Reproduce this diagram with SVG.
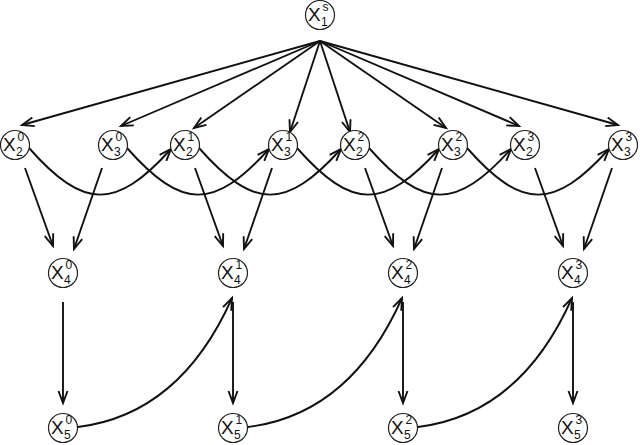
<svg xmlns="http://www.w3.org/2000/svg" width="640" height="445" viewBox="0 0 640 445">
<style>
.n circle{fill:#fff;stroke:#222;stroke-width:1.2}
.n text{font-family:"Liberation Sans",Arial,sans-serif;fill:#111}
.m{font-size:19px}
.s{font-size:12px}
.e path{fill:none;stroke:#111;stroke-width:1.9;marker-end:url(#a)}
</style>
<defs>
<marker id="a" viewBox="-15 -8 18 16" refX="0" refY="0" markerWidth="18" markerHeight="16" markerUnits="userSpaceOnUse" orient="auto">
<path d="M-12,-4.5 L0,0 L-12,4.5" fill="none" stroke="#111" stroke-width="1.9"/>
</marker>
</defs>
<rect width="640" height="445" fill="#fff"/>
<g id="connectors" class="e">
<path d="M320,41 L22,125"/>
<path d="M320,41 L121,126"/>
<path d="M320,41 L194,128"/>
<path d="M320,41 L290,132"/>
<path d="M320,41 L350,132"/>
<path d="M320,41 L446,128"/>
<path d="M320,41 L519,126"/>
<path d="M320,41 L618,125"/>
<path d="M25,168 L53,246"/>
<path d="M102,168 L74,249"/>
<path d="M195,168 L223,246"/>
<path d="M272,168 L244,249"/>
<path d="M365,168 L393,246"/>
<path d="M442,168 L414,249"/>
<path d="M535,168 L563,246"/>
<path d="M612,168 L584,249"/>
<path d="M29,148 C84,210 116,210 171,149"/>
<path d="M127,148 C182,210 214,210 269,149"/>
<path d="M199,148 C254,210 286,210 341,149"/>
<path d="M297,148 C352,210 384,210 439,149"/>
<path d="M369,148 C424,210 456,210 511,149"/>
<path d="M467,148 C522,210 554,210 609,149"/>
<path d="M63,302 L63,403"/>
<path d="M233,302 L233,403"/>
<path d="M403,302 L403,403"/>
<path d="M573,302 L573,403"/>
<path d="M78,427 C150,418 200,370 232,298"/>
<path d="M248,427 C320,418 370,370 402,298"/>
<path d="M418,427 C490,418 540,370 572,298"/>
</g>
<g id="x1s" class="n"><circle cx="320" cy="15" r="14.5"/><text class="m" x="308" y="21">X</text><text class="s" x="322.5" y="11">s</text><text class="s" x="321" y="26">1</text></g>
<g id="x20" class="n"><circle cx="15" cy="145" r="14.5"/><text class="m" x="3" y="151">X</text><text class="s" x="17.5" y="141">0</text><text class="s" x="16" y="156">2</text></g>
<g id="x30" class="n"><circle cx="113" cy="145" r="14.5"/><text class="m" x="101" y="151">X</text><text class="s" x="115.5" y="141">0</text><text class="s" x="114" y="156">3</text></g>
<g id="x21" class="n"><circle cx="185" cy="145" r="14.5"/><text class="m" x="173" y="151">X</text><text class="s" x="187.5" y="141">1</text><text class="s" x="186" y="156">2</text></g>
<g id="x31" class="n"><circle cx="283" cy="145" r="14.5"/><text class="m" x="271" y="151">X</text><text class="s" x="285.5" y="141">1</text><text class="s" x="284" y="156">3</text></g>
<g id="x22" class="n"><circle cx="355" cy="145" r="14.5"/><text class="m" x="343" y="151">X</text><text class="s" x="357.5" y="141">2</text><text class="s" x="356" y="156">2</text></g>
<g id="x32" class="n"><circle cx="453" cy="145" r="14.5"/><text class="m" x="441" y="151">X</text><text class="s" x="455.5" y="141">2</text><text class="s" x="454" y="156">3</text></g>
<g id="x23" class="n"><circle cx="525" cy="145" r="14.5"/><text class="m" x="513" y="151">X</text><text class="s" x="527.5" y="141">3</text><text class="s" x="526" y="156">2</text></g>
<g id="x33" class="n"><circle cx="623" cy="145" r="14.5"/><text class="m" x="611" y="151">X</text><text class="s" x="625.5" y="141">3</text><text class="s" x="624" y="156">3</text></g>
<g id="x40" class="n"><circle cx="63" cy="273" r="14.5"/><text class="m" x="51" y="279">X</text><text class="s" x="65.5" y="269">0</text><text class="s" x="64" y="284">4</text></g>
<g id="x41" class="n"><circle cx="233" cy="273" r="14.5"/><text class="m" x="221" y="279">X</text><text class="s" x="235.5" y="269">1</text><text class="s" x="234" y="284">4</text></g>
<g id="x42" class="n"><circle cx="403" cy="273" r="14.5"/><text class="m" x="391" y="279">X</text><text class="s" x="405.5" y="269">2</text><text class="s" x="404" y="284">4</text></g>
<g id="x43" class="n"><circle cx="573" cy="273" r="14.5"/><text class="m" x="561" y="279">X</text><text class="s" x="575.5" y="269">3</text><text class="s" x="574" y="284">4</text></g>
<g id="x50" class="n"><circle cx="63" cy="428" r="14.5"/><text class="m" x="51" y="434">X</text><text class="s" x="65.5" y="424">0</text><text class="s" x="64" y="439">5</text></g>
<g id="x51" class="n"><circle cx="233" cy="428" r="14.5"/><text class="m" x="221" y="434">X</text><text class="s" x="235.5" y="424">1</text><text class="s" x="234" y="439">5</text></g>
<g id="x52" class="n"><circle cx="403" cy="428" r="14.5"/><text class="m" x="391" y="434">X</text><text class="s" x="405.5" y="424">2</text><text class="s" x="404" y="439">5</text></g>
<g id="x53" class="n"><circle cx="573" cy="428" r="14.5"/><text class="m" x="561" y="434">X</text><text class="s" x="575.5" y="424">3</text><text class="s" x="574" y="439">5</text></g>
</svg>
